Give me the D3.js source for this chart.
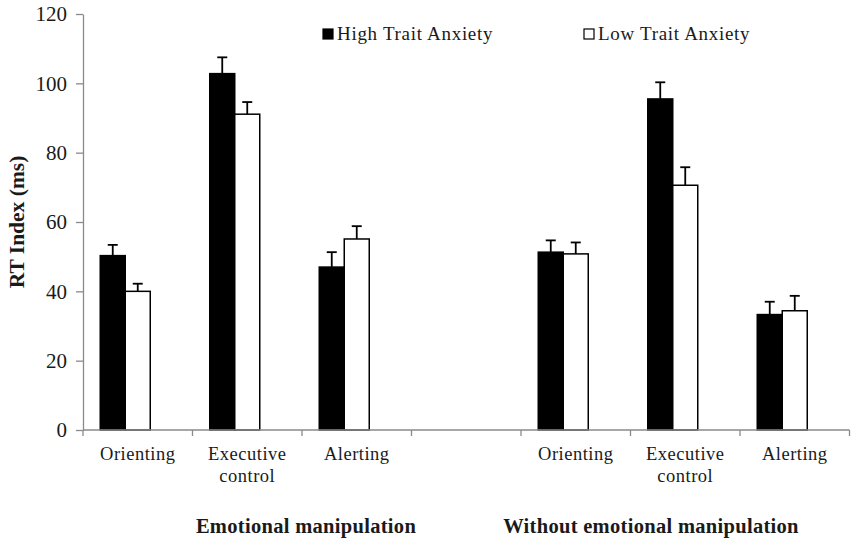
<!DOCTYPE html>
<html>
<head>
<meta charset="utf-8">
<script src="https://cdn.jsdelivr.net/npm/d3@7"></script>
<style>
  body { margin: 0; background: #fff; }
  text { font-family: "Liberation Serif", "Times New Roman", serif; fill: #1a1a1a; }
</style>
</head>
<body>
<svg width="856" height="544"></svg>
<script>
var width = 856;
var height = 544;
var margin = {left: 83, right: 6.5, top: 14, bottom: 114};

// data (index 3 is the empty gap between the two groups)
var categories = ["Orienting", "Executive control", "Alerting", "", "Orienting", "Executive control", "Alerting"];
var highMeans  = [50.3, 102.8, 47.0, null, 51.3, 95.5, 33.3];
var highErr    = [3.1, 4.7, 4.3, null, 3.4, 4.8, 3.7];
var lowMeans   = [40.0, 91.1, 55.1, null, 50.8, 70.6, 34.4];
var lowErr     = [2.2, 3.5, 3.7, null, 3.3, 5.2, 4.3];
var seriesNames = ["High Trait Anxiety", "Low Trait Anxiety"];
var groupLabels = ["Emotional manipulation", "Without emotional manipulation"];
var yTicks = [0, 20, 40, 60, 80, 100, 120];

var series = [
  {key: "high", name: seriesNames[0], means: highMeans, err: highErr, fill: "#000"},
  {key: "low",  name: seriesNames[1], means: lowMeans,  err: lowErr,  fill: "#fff"}
];

var svg = d3.select("svg");

// scales
var pad = 0.315;
var x0 = d3.scaleBand().domain(d3.range(categories.length))
  .range([margin.left, width - margin.right])
  .paddingInner(pad).paddingOuter(pad / 2);
// two bars fill the left two thirds of each band (as in the original layout)
var x1 = d3.scaleBand().domain(series.map(function (s) { return s.key; }))
  .range([0, x0.bandwidth() * 2 / 3]);
var y = d3.scaleLinear().domain([0, 120]).range([height - margin.bottom, margin.top]);

// bars
series.forEach(function (s) {
  var rows = s.means.map(function (m, i) { return {i: i, m: m, e: s.err[i]}; })
    .filter(function (d) { return d.m != null; });

  svg.append("g").selectAll("rect")
    .data(rows)
    .enter()
    .append("rect")
    .attr("x", function (d) { return x0(d.i) + x1(s.key); })
    .attr("y", function (d) { return y(d.m); })
    .attr("width", x1.bandwidth())
    .attr("height", function (d) { return y(0) - y(d.m); })
    .attr("fill", s.fill)
    .attr("stroke", "#000")
    .attr("stroke-width", 1.5);

  // upper error bars
  var eb = svg.append("g").attr("stroke", "#000").attr("stroke-width", 1.8);
  rows.forEach(function (d) {
    var cx = x0(d.i) + x1(s.key) + x1.bandwidth() / 2;
    eb.append("line").attr("x1", cx).attr("x2", cx)
      .attr("y1", y(d.m)).attr("y2", y(d.m + d.e));
    eb.append("line").attr("x1", cx - 5).attr("x2", cx + 5)
      .attr("y1", y(d.m + d.e)).attr("y2", y(d.m + d.e));
  });
});

// y axis
var axisLeft = d3.axisLeft(y).tickValues(yTicks).tickSize(7).tickSizeOuter(0).tickPadding(9);
var gy = svg.append("g")
  .attr("transform", "translate(" + margin.left + ",0)")
  .call(axisLeft);
gy.selectAll("path, line").attr("stroke", "#8a8a8a").attr("stroke-width", 1.3);
gy.selectAll("text").attr("font-size", 21).attr("fill", "#1a1a1a")
  .style("font-family", "Liberation Serif");

// x axis: labels centred in each band, ticks on the band boundaries
var axisBottom = d3.axisBottom(x0).tickSize(0).tickSizeOuter(0).tickPadding(0)
  .tickFormat(function (i) { return categories[i]; });
var gx = svg.append("g")
  .attr("transform", "translate(0," + y(0) + ")")
  .call(axisBottom);
gx.select(".domain").attr("stroke", "#8a8a8a").attr("stroke-width", 1.3)
  .attr("d", "M" + margin.left + ",0H" + (width - margin.right));
gx.selectAll(".tick text").each(function (i) {
  var words = categories[i].split(" ");
  var t = d3.select(this).text(null)
    .attr("font-size", 18.5).attr("fill", "#1a1a1a").attr("y", 0).attr("dy", null)
    .attr("letter-spacing", 0.5)
    .style("font-family", "Liberation Serif");
  words.forEach(function (w, k) {
    t.append("tspan").attr("x", 0).attr("y", 30 + k * 22).text(w);
  });
});
gx.append("g").selectAll("line")
  .data(d3.range(categories.length + 1))
  .enter()
  .append("line")
  .attr("x1", function (k) { return x0.range()[0] + k * x0.step(); })
  .attr("x2", function (k) { return x0.range()[0] + k * x0.step(); })
  .attr("y1", 0).attr("y2", 6)
  .attr("stroke", "#8a8a8a").attr("stroke-width", 1.3);

// axis title
svg.append("text")
  .attr("transform", "translate(24," + ((y(0) + y(120)) / 2) + ") rotate(-90)")
  .attr("text-anchor", "middle")
  .attr("font-size", 21.5)
  .attr("font-weight", "bold")
  .text("RT Index (ms)");

// group labels
svg.append("text").attr("x", 306).attr("y", 533)
  .attr("text-anchor", "middle").attr("font-size", 20.5).attr("font-weight", "bold")
  .attr("letter-spacing", 0.3)
  .text(groupLabels[0]);
svg.append("text").attr("x", 651).attr("y", 533)
  .attr("text-anchor", "middle").attr("font-size", 20.5).attr("font-weight", "bold")
  .attr("letter-spacing", 0.3)
  .text(groupLabels[1]);

// legend
var legendX = [323, 584];
var legend = svg.append("g").selectAll("g")
  .data(series)
  .enter()
  .append("g")
  .attr("transform", function (s, k) { return "translate(" + legendX[k] + ",29)"; });
legend.append("rect")
  .attr("width", 10).attr("height", 10)
  .attr("fill", function (s) { return s.fill; })
  .attr("stroke", "#000").attr("stroke-width", 1.2);
legend.append("text")
  .attr("x", 14).attr("y", 11)
  .attr("font-size", 19)
  .attr("letter-spacing", 0.7)
  .text(function (s) { return s.name; });
</script>
</body>
</html>
